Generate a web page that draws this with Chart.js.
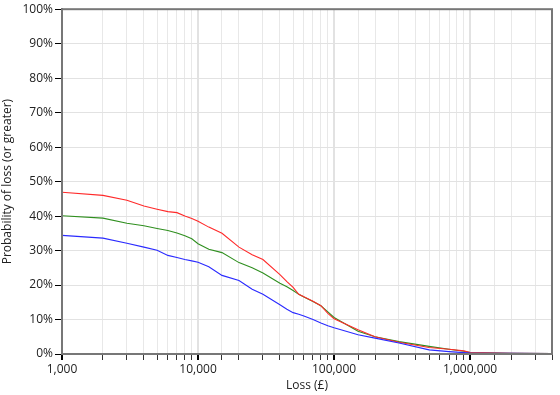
<!DOCTYPE html>
<html>
<head>
<meta charset="utf-8">
<script src="https://cdn.jsdelivr.net/npm/chart.js@4/dist/chart.umd.min.js"></script>
<style>
  html, body { margin: 0; padding: 0; background: #fff; }
  #wrap { width: 560px; height: 395px; }
</style>
</head>
<body>
<div id="wrap"><canvas id="myChart" width="560" height="395"></canvas></div>
<script>
// Loss values (£) shared by all three curves
const losses = [1000, 2000, 3000, 4000, 5000, 6000, 7000, 8000, 9000, 10000,
    12000, 15000, 20000, 25000, 30000, 40000, 45000, 50000, 55000, 60000, 70000, 80000,
    90000, 100000, 150000, 200000, 300000, 500000, 700000, 900000, 1000000, 2000000, 4000000];

// Probability of loss (or greater), in %
const redValues = [46.9, 46.0, 44.6, 42.9, 42.0, 41.3, 41.0, 40.0, 39.3, 38.5,
    36.8, 35.0, 31.0, 28.8, 27.4, 23.0, 21.0, 19.3, 17.3, 16.6, 15.3, 14.0,
    11.8, 10.2, 7.0, 5.0, 3.4, 1.9, 1.4, 0.9, 0.4, 0.2, 0.15];
const greenValues = [40.1, 39.4, 37.9, 37.2, 36.4, 35.8, 35.1, 34.3, 33.4, 32.0,
    30.4, 29.4, 26.5, 25.0, 23.5, 20.5, 19.5, 18.4, 17.3, 16.5, 15.2, 14.0,
    12.2, 10.6, 6.6, 5.0, 3.6, 2.2, 1.4, 0.8, 0.4, 0.2, 0.15];
const blueValues = [34.4, 33.6, 32.1, 31.0, 30.1, 28.6, 28.0, 27.4, 27.0, 26.6,
    25.3, 22.8, 21.3, 18.8, 17.3, 14.3, 13.0, 12.0, 11.5, 11.0, 10.0, 9.0,
    8.2, 7.6, 5.6, 4.6, 3.2, 1.2, 0.7, 0.4, 0.3, 0.2, 0.15];

const xMin = 1000;
const xMax = 4000000;
const yTicks = [0, 10, 20, 30, 40, 50, 60, 70, 80, 90, 100];

function toPoints(values) {
    return losses.map((x, i) => ({x: x, y: values[i]}));
}

function isDecade(v) {
    const l = Math.log10(v);
    return Math.abs(l - Math.round(l)) < 1e-9;
}

// gray box round the plot area
const frame = {
    id: 'frame',
    afterDraw(chart) {
        const a = chart.chartArea;
        const ctx = chart.ctx;
        ctx.save();
        ctx.strokeStyle = '#777';
        ctx.lineWidth = 2;
        ctx.strokeRect(a.left, a.top, a.right - a.left, a.bottom - a.top);
        ctx.restore();
    }
};

Chart.defaults.font.family = '"Open Sans", "Noto Sans", sans-serif';
Chart.defaults.font.size = 12;
Chart.defaults.color = '#222';

new Chart(document.getElementById('myChart'), {
    type: 'line',
    data: {
        datasets: [
            {data: toPoints(blueValues), borderColor: '#2a2aff'},
            {data: toPoints(redValues), borderColor: '#ff2a2a'},
            {data: toPoints(greenValues), borderColor: '#2f8f1f'}
        ].map(d => Object.assign(d, {borderWidth: 1.1, pointRadius: 0, fill: false, tension: 0}))
    },
    options: {
        responsive: false,
        animation: false,
        layout: {padding: {top: 4, right: 8, left: 0, bottom: 2}},
        plugins: {legend: {display: false}, tooltip: {enabled: false}},
        scales: {
            x: {
                type: 'logarithmic',
                min: xMin,
                max: xMax,
                title: {display: true, text: 'Loss (£)', padding: {top: 0, bottom: 0}},
                border: {display: true, color: '#777', width: 2},
                grid: {
                    color: ctx => isDecade(ctx.tick.value) ? '#e2e2e2' : '#e8e8e8',
                    lineWidth: ctx => isDecade(ctx.tick.value) ? 2 : 1,
                    tickColor: ctx => isDecade(ctx.tick.value) ? '#000' : '#333',
                    tickWidth: ctx => isDecade(ctx.tick.value) ? 2 : 1,
                    tickLength: 6
                },
                ticks: {
                    autoSkip: false,
                    maxRotation: 0,
                    padding: 2,
                    callback: v => isDecade(v) ? v.toLocaleString('en-US') : ''
                },
                afterFit: s => { s.height = 39; }
            },
            y: {
                min: 0,
                max: 100,
                afterBuildTicks: s => { s.ticks = yTicks.map(v => ({value: v})); },
                title: {display: true, text: 'Probability of loss (or greater)', padding: {top: 0, bottom: 2}},
                border: {display: true, color: '#777', width: 2},
                grid: {color: '#e2e2e2', lineWidth: 1, tickColor: '#000', tickLength: 7},
                ticks: {padding: 2, callback: v => v + '%'},
                afterFit: s => { s.width = 62; }
            }
        }
    },
    plugins: [frame]
});
</script>
</body>
</html>
